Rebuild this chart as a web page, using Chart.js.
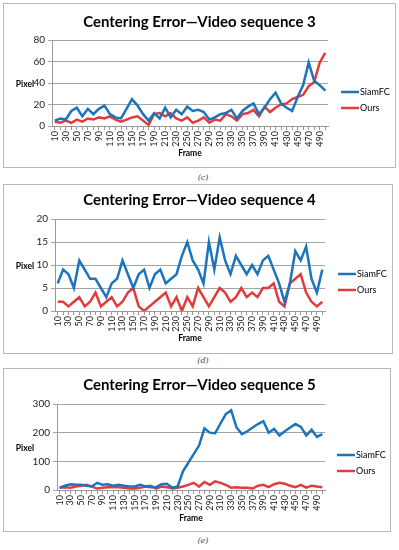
<!DOCTYPE html>
<html>
<head>
<meta charset="utf-8">
<script src="https://cdn.jsdelivr.net/npm/chart.js@4/dist/chart.umd.min.js"></script>
<style>
    body { margin: 0; background: #fff; width: 399px; height: 550px; position: relative; overflow: hidden; }
    .box { position: absolute; border: 1px solid #b8b8b8; box-sizing: border-box; }
    .box canvas { position: absolute; left: 0; top: 0; }
    .cap { position: absolute; width: 40px; text-align: center; font: italic 8px "DejaVu Serif"; color: #444; }
</style>
</head>
<body>
<script>
const frames = [10, 20, 30, 40, 50, 60, 70, 80, 90, 100,
    110, 120, 130, 140, 150, 160, 170, 180, 190, 200,
    210, 220, 230, 240, 250, 260, 270, 280, 290, 300,
    310, 320, 330, 340, 350, 360, 370, 380, 390, 400,
    410, 420, 430, 440, 450, 460, 470, 480, 490, 500];

// sequence 3
const siam3 = [5, 7, 6, 14, 17, 9, 16, 11, 16, 19, 11, 8, 7, 16, 25, 19, 11, 5, 12, 7,
    17, 8, 15, 11, 18, 14, 15, 13, 6, 8, 11, 12, 15, 7, 14, 18, 21, 11, 17, 25,
    31, 21, 17, 14, 27, 38, 59, 42, 38, 33];
const ours3 = [4, 3, 5, 3, 6, 4, 7, 6, 8, 7, 9, 6, 4, 6, 8, 9, 5, 1, 11, 12,
    9, 12, 7, 5, 8, 3, 5, 8, 3, 6, 5, 11, 9, 5, 11, 12, 15, 9, 18, 13,
    17, 20, 21, 25, 27, 29, 37, 41, 59, 68];

// sequence 4
const siam4 = [6, 9, 8, 5, 11, 9, 7, 7, 5, 3, 6, 7, 11, 8, 5, 8, 9, 5, 8, 9,
    6, 7, 8, 12, 15, 11, 9, 6, 15, 9, 16, 11, 8, 12, 10, 8, 10, 8, 11, 12,
    9, 6, 2, 6, 13, 11, 14, 7, 4, 9];
const ours4 = [2, 2, 1, 2, 3, 1, 2, 4, 1, 2, 3, 1, 2, 4, 5, 1, 0, 1, 2, 3,
    4, 1, 3, 0, 3, 1, 5, 3, 1, 3, 5, 4, 2, 3, 5, 3, 4, 3, 5, 5,
    6, 2, 1, 6, 7, 8, 4, 2, 1, 2];

// sequence 5
const siam5 = [8, 15, 20, 18, 18, 15, 12, 25, 18, 20, 15, 18, 15, 12, 12, 18, 12, 10, 10, 20,
    22, 8, 12, 65, 95, 125, 155, 215, 200, 198, 232, 265, 278, 218, 195, 205, 218, 230, 240, 200,
    213, 190, 205, 218, 230, 220, 190, 210, 185, 195];
const ours5 = [8, 10, 8, 12, 15, 18, 12, 5, 8, 10, 10, 10, 8, 5, 5, 8, 12, 15, 5, 12,
    10, 5, 8, 12, 18, 25, 12, 28, 18, 30, 25, 18, 8, 10, 8, 8, 5, 15, 18, 10,
    20, 25, 22, 15, 10, 18, 8, 15, 12, 10];

const seriesNames = ["SiamFC", "Ours"];
const seriesColors = ["#1c74bc", "#e33b3c"];

const charts = [
    {
        title: "Centering Error\u2014Video sequence 3", cap: "(c)", siam: siam3, ours: ours3, max: 80, step: 20,
        box: {x: 3, y: 3, w: 393, h: 165}, area: {l: 52, r: 328, t: 40, b: 126},
        titleY: 22, frameY: 153, legX: 341, legY: 92, pixY: 84, capY: 179,
    },
    {
        title: "Centering Error\u2014Video sequence 4", cap: "(d)", siam: siam4, ours: ours4, max: 20, step: 5,
        box: {x: 3, y: 184, w: 390, h: 170}, area: {l: 55, r: 325, t: 219, b: 311},
        titleY: 200, frameY: 338, legX: 338, legY: 274, pixY: 266, capY: 362,
    },
    {
        title: "Centering Error\u2014Video sequence 5", cap: "(e)", siam: siam5, ours: ours5, max: 300, step: 50,
        box: {x: 3, y: 368, w: 388, h: 164}, area: {l: 57, r: 325, t: 404, b: 490},
        titleY: 385, frameY: 518, legX: 337, legY: 455, pixY: 448, capY: 542,
    },
];

// title, "Pixel" label and the legend on the right
const sideText = {
    id: "sideText",
    afterDraw(chart, args, opts) {
        const ctx = chart.ctx;
        ctx.save();
        ctx.fillStyle = "#000";
        ctx.textBaseline = "middle";
        ctx.textAlign = "center";
        ctx.font = "bold 15px Lato";
        ctx.fillText(opts.title, opts.tx, opts.ty);
        ctx.font = "bold 8.5px Lato";
        ctx.fillText("Pixel", opts.px, opts.py);
        ctx.font = "9px Lato";
        ctx.textAlign = "left";
        chart.data.datasets.forEach((ds, i) => {
            const y = opts.ly + i * 16;
            ctx.strokeStyle = ds.borderColor;
            ctx.lineWidth = 2.5;
            ctx.beginPath();
            ctx.moveTo(opts.lx, y);
            ctx.lineTo(opts.lx + 18, y);
            ctx.stroke();
            ctx.fillText(ds.label, opts.lx + 19, y + 0.5);
        });
        ctx.restore();
    },
};

charts.forEach((c) => {
    const div = document.createElement("div");
    div.className = "box";
    Object.assign(div.style, {left: c.box.x + "px", top: c.box.y + "px", width: c.box.w + "px", height: c.box.h + "px"});
    const canvas = document.createElement("canvas");
    const cw = c.box.w - 2, ch = c.box.h - 2;
    canvas.width = cw;
    canvas.height = ch;
    div.appendChild(canvas);
    document.body.appendChild(div);

    const cap = document.createElement("div");
    cap.className = "cap";
    cap.textContent = c.cap;
    Object.assign(cap.style, {left: "183px", top: (c.capY - 6) + "px"});
    document.body.appendChild(cap);

    const ox = c.box.x + 1, oy = c.box.y + 1;
    const L = c.area.l - ox, R = c.area.r - ox, T = c.area.t - oy, B = c.area.b - oy;
    const fc = c.frameY - oy;
    const padBottom = ch - (fc + 5);

    new Chart(canvas, {
        type: "line",
        data: {
            labels: frames,
            datasets: [c.siam, c.ours].map((d, i) => ({
                label: seriesNames[i],
                data: d,
                borderColor: seriesColors[i],
                backgroundColor: seriesColors[i],
                borderWidth: 2.5,
                pointRadius: 0,
                tension: 0,
            })),
        },
        options: {
            responsive: false,
            animation: false,
            layout: {padding: {left: 0, right: cw - R, top: T, bottom: padBottom}},
            plugins: {
                legend: {display: false},
                tooltip: {enabled: false},
                title: {display: false},
                sideText: {
                    title: c.title, tx: 199.5 - ox, ty: c.titleY - oy,
                    px: 25 - ox, py: c.pixY - oy, lx: c.legX - ox, ly: c.legY - oy,
                },
            },
            scales: {
                x: {
                    offset: true,
                    afterFit: (s) => { s.height = ch - padBottom - B; },
                    grid: {drawOnChartArea: false, tickLength: 4, color: "#9a9a9a"},
                    border: {color: "#9a9a9a"},
                    ticks: {
                        autoSkip: false,
                        minRotation: 90,
                        maxRotation: 90,
                        padding: 1,
                        color: "#222",
                        font: {family: "Lato", size: 9},
                        callback: (v, i) => (i % 2 === 0 ? frames[i] : ""),
                    },
                    title: {
                        display: true,
                        text: "Frame",
                        color: "#000",
                        font: {family: "Lato", size: 8.5, weight: "bold"},
                        padding: 0,
                    },
                },
                y: {
                    min: 0,
                    max: c.max,
                    afterFit: (s) => { s.width = L; },
                    grid: {color: "#a4a4a4", tickLength: 4},
                    border: {color: "#9a9a9a"},
                    ticks: {
                        stepSize: c.step,
                        padding: 3,
                        color: "#222",
                        font: {family: "Lato", size: 10},
                    },
                },
            },
        },
        plugins: [sideText],
    });
});
</script>
</body>
</html>
